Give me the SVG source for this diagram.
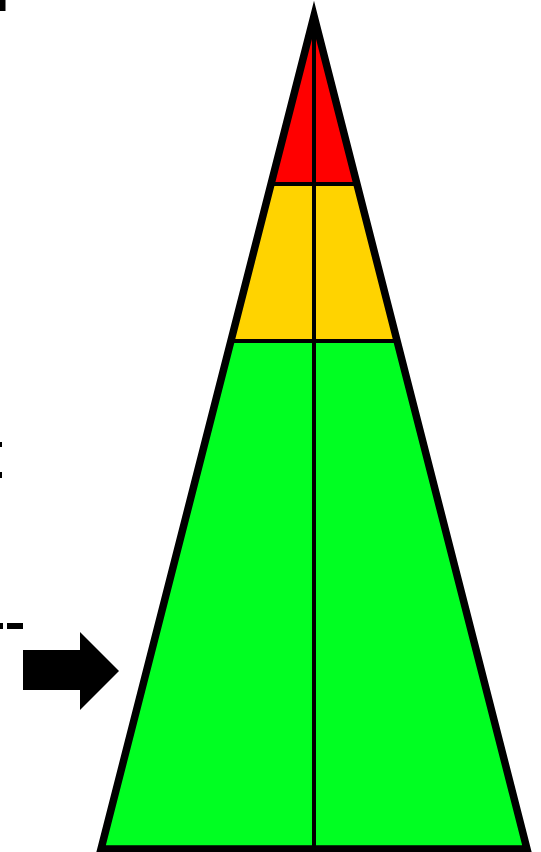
<svg xmlns="http://www.w3.org/2000/svg" width="541" height="852" viewBox="0 0 541 852">
  <style>
    .edge { fill: none; stroke: #000; stroke-width: 7.5; stroke-linejoin: miter; stroke-miterlimit: 10; }
    .divider { stroke: #000; stroke-width: 4; }
    .mark { fill: #000; }
  </style>
  <rect width="541" height="852" fill="#fff"/>

  <!-- small marks along the left border -->
  <g id="left-marks">
    <rect class="mark" x="0" y="0" width="5.5" height="11"/>
    <rect class="mark" x="0" y="442" width="2" height="5"/>
    <rect class="mark" x="0" y="472" width="2" height="6"/>
    <rect class="mark" x="0" y="623" width="3" height="6"/>
    <rect class="mark" x="7" y="623" width="16" height="6"/>
  </g>

  <!-- pointer arrow -->
  <g id="arrow">
    <polygon class="mark" points="23,650 80,650 80,632 119,671 80,710 80,690 23,690"/>
  </g>

  <!-- pyramid tiers -->
  <g id="tier-top">
    <polygon fill="#ff0000" points="314,16 357.6,184 270.4,184"/>
  </g>
  <g id="tier-middle">
    <polygon fill="#ffd300" points="270.4,184 357.6,184 397.6,341 230.4,341"/>
  </g>
  <g id="tier-base">
    <polygon fill="#00ff22" points="230.4,341 397.6,341 527,849 101,849"/>
  </g>

  <!-- dividing lines and outline -->
  <g id="lines">
    <line class="divider" x1="314" y1="16" x2="314" y2="852"/>
    <line class="divider" x1="270.4" y1="184" x2="357.6" y2="184"/>
    <line class="divider" x1="230.4" y1="341" x2="397.6" y2="341"/>
    <polygon class="edge" points="314,16 527,849 101,849"/>
  </g>
</svg>
